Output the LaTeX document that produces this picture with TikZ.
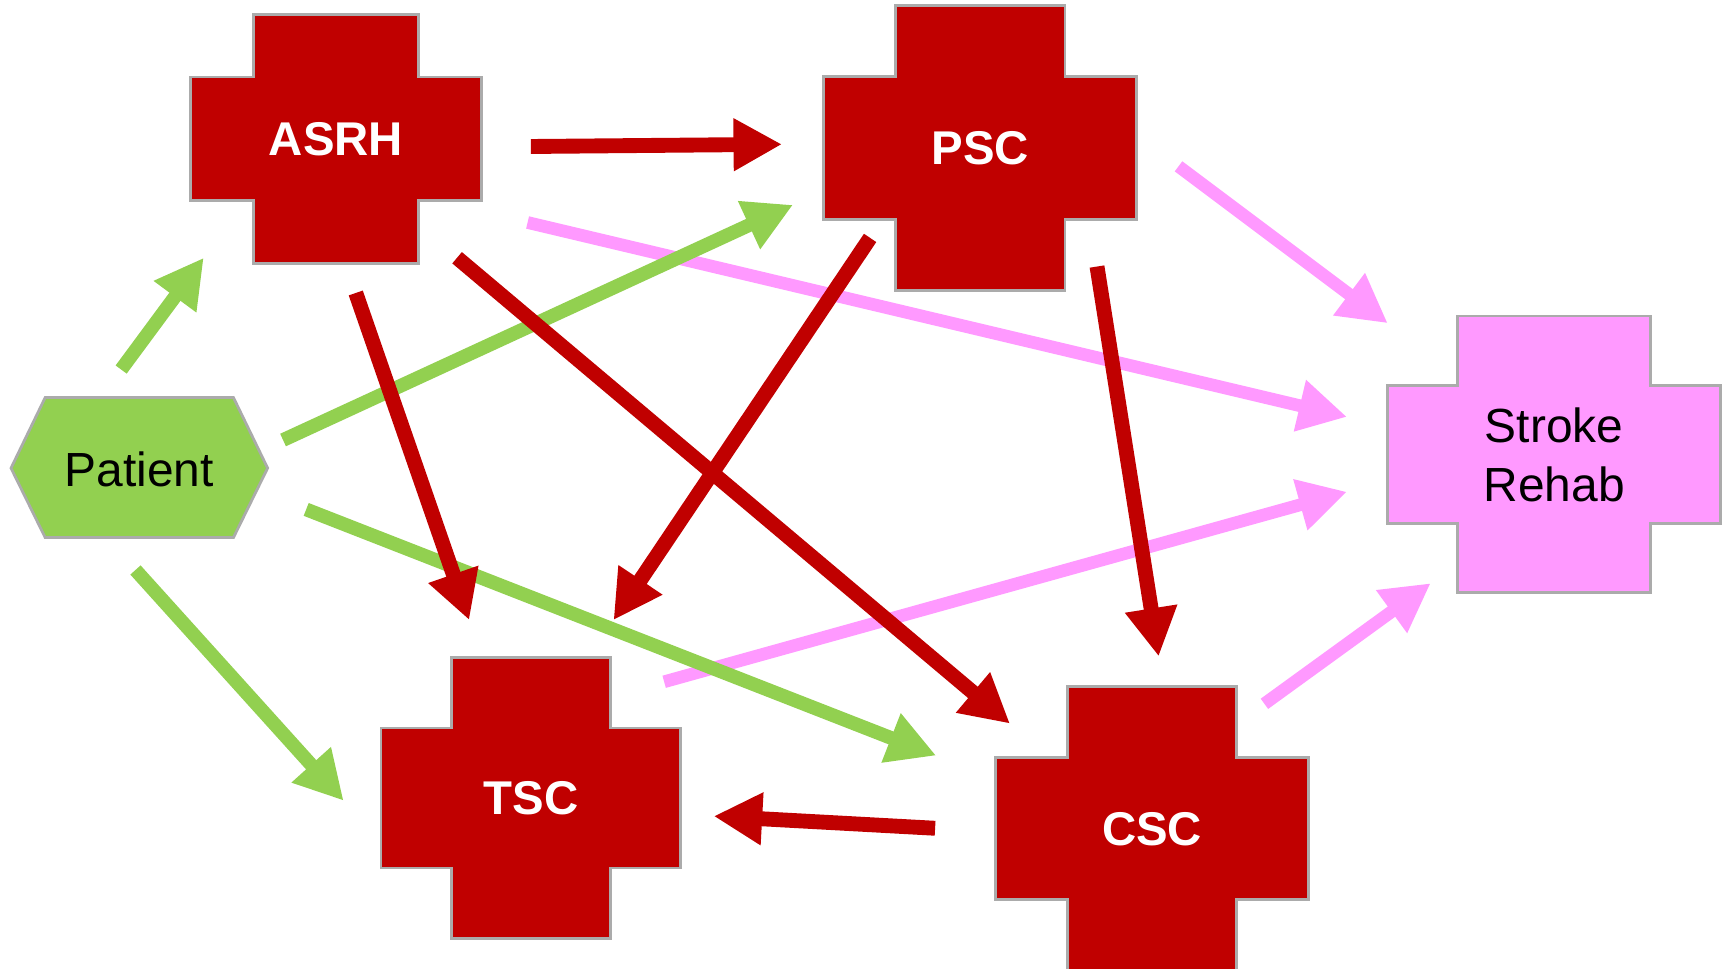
\documentclass[tikz,border=0pt]{standalone}
\usepackage{fontspec}
\setmainfont{Liberation Sans}
\usetikzlibrary{arrows.meta,calc}
\definecolor{cred}{HTML}{C00000}
\definecolor{cgreen}{HTML}{92D050}
\definecolor{cpink}{HTML}{FF99FF}
\definecolor{cborder}{HTML}{ABABAB}
\newcommand{\mkcross}[6]{%
  \path[fill=#6, draw=cborder, line width=2.5, shift={#1}]
    (-#4,-#3) -- (#4,-#3) -- (#4,-#5) -- (#2,-#5) -- (#2,#5) -- (#4,#5) --
    (#4,#3) -- (-#4,#3) -- (-#4,#5) -- (-#2,#5) -- (-#2,-#5) -- (-#4,-#5) -- cycle;}
\tikzset{
  hosp/.style={font=\fontsize{43}{50}\selectfont\bfseries, text=white, inner sep=0pt},
  plain/.style={font=\fontsize{43.5}{53}\selectfont, text=black, align=center, inner sep=0pt},
  arr/.style={-{Triangle[length=44pt,width=45pt]}},
  redarr/.style={arr, line width=13.5, draw=cred},
  greenarr/.style={arr, line width=12.5, draw=cgreen},
  pinkarr/.style={arr, line width=11.5, draw=cpink},
}
\begin{document}
\begin{tikzpicture}[x=1pt,y=-1pt]
\useasboundingbox (0,0) rectangle (1568,879);
\clip (0,0) rectangle (1568,879);
% shapes
\mkcross{(305,126)}{132}{113}{75}{56}{cred}
\node[hosp] (asrh) at (305,126) {ASRH};
\mkcross{(890,134.5)}{142}{129.5}{77}{65}{cred}
\node[hosp] (psc) at (890,134.5) {PSC};
\mkcross{(482,724.5)}{136}{127.5}{72}{63.5}{cred}
\node[hosp] (tsc) at (482,724.5) {TSC};
\mkcross{(1046,752.5)}{142}{129.5}{76.5}{64.5}{cred}
\node[hosp] (csc) at (1046,752.5) {CSC};
\mkcross{(1411,412.5)}{151}{125.5}{87.5}{62.5}{cpink}
\node[plain] (sr) at (1411,413) {Stroke\\Rehab};
\path[fill=cgreen, draw=cborder, line width=2.5]
  (10,425) -- (41,361) -- (212,361) -- (243,425) -- (212,488) -- (41,488) -- cycle;
\node[plain] (pat) at (126.5,426) {Patient};
% pink connectors
\draw[pinkarr] ($(asrh.center)+(174,76)$) -- ($(sr.center)+(-188,-34.5)$);
\draw[pinkarr] ($(psc.center)+(180,16.5)$) -- ($(sr.center)+(-151,-119.5)$);
\draw[pinkarr] ($(tsc.center)+(121,-105.5)$) -- ($(sr.center)+(-188,33.5)$);
\draw[pinkarr] ($(csc.center)+(102,-113.5)$) -- ($(sr.center)+(-112,116.5)$);
% green connectors
\draw[greenarr] ($(pat.center)+(-16.5,-90.5)$) -- ($(asrh.center)+(-120,108)$);
\draw[greenarr] ($(pat.center)+(130.5,-26.5)$) -- ($(psc.center)+(-170,51.5)$);
\draw[greenarr] ($(pat.center)+(151.5,36.5)$) -- ($(csc.center)+(-196,-66.5)$);
\draw[greenarr] ($(pat.center)+(-3.5,91.5)$) -- ($(tsc.center)+(-170,2.5)$);
% red connectors
\draw[redarr] ($(asrh.center)+(177,7)$) -- ($(psc.center)+(-180,-3.5)$);
\draw[redarr] ($(asrh.center)+(18,140)$) -- ($(tsc.center)+(-56,-161.5)$);
\draw[redarr] ($(asrh.center)+(110,108)$) -- ($(csc.center)+(-129,-95.5)$);
\draw[redarr] ($(psc.center)+(-100,81.5)$) -- ($(tsc.center)+(75,-161.5)$);
\draw[redarr] ($(psc.center)+(106,107.5)$) -- ($(csc.center)+(6,-156.5)$);
\draw[redarr] ($(csc.center)+(-197,-0.5)$) -- ($(tsc.center)+(166,16.5)$);
\end{tikzpicture}
\end{document}
